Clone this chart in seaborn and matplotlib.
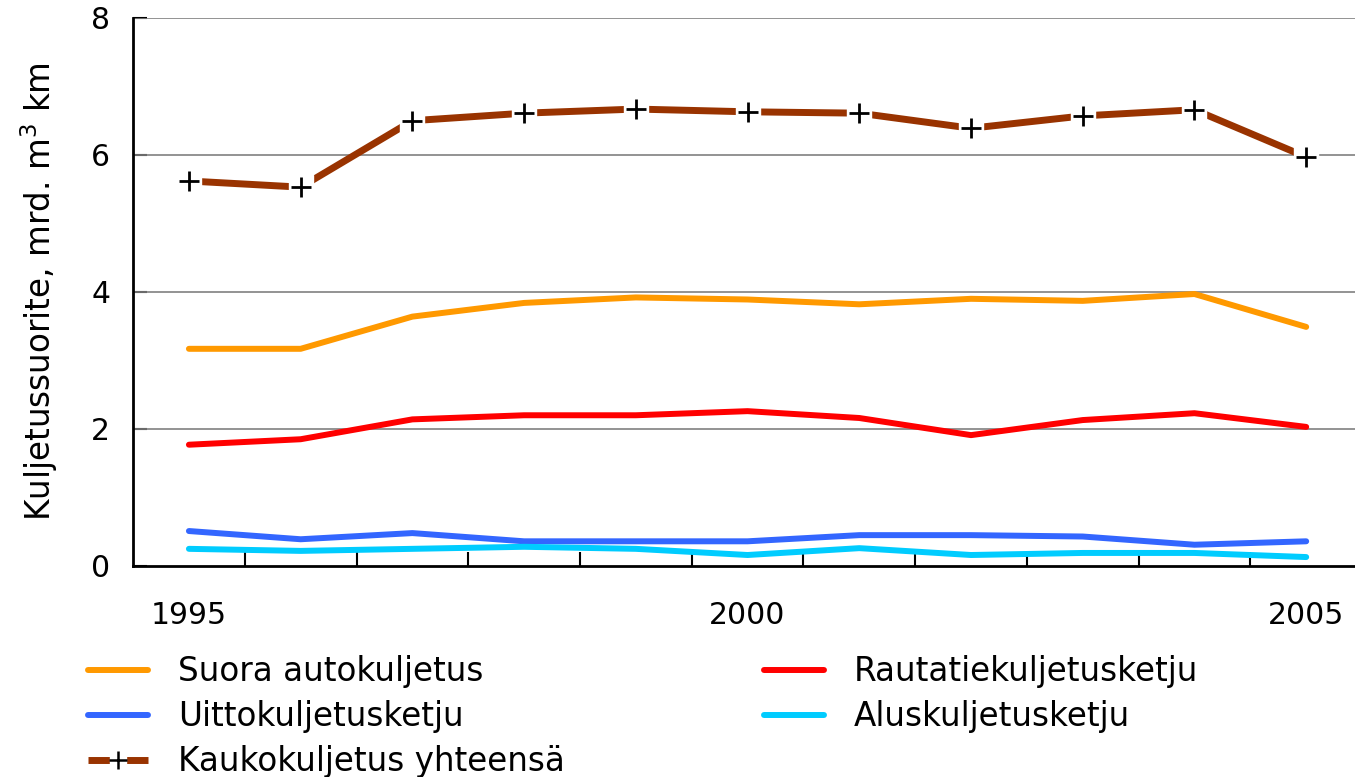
import numpy as np
import pandas as pd
import matplotlib
matplotlib.use('Agg')
import matplotlib.pyplot as plt
import seaborn as sns
from matplotlib.lines import Line2D

# values (mrd. m3 km)
years = list(range(1995, 2006))
suora = [3.17, 3.17, 3.64, 3.84, 3.92, 3.89, 3.82, 3.90, 3.87, 3.97, 3.49]
rautatie = [1.77, 1.85, 2.14, 2.20, 2.20, 2.26, 2.16, 1.91, 2.13, 2.23, 2.03]
uitto = [0.51, 0.39, 0.48, 0.36, 0.36, 0.36, 0.45, 0.45, 0.43, 0.31, 0.36]
alus = [0.25, 0.22, 0.25, 0.28, 0.25, 0.16, 0.26, 0.16, 0.19, 0.19, 0.13]
kauko = [5.62, 5.53, 6.50, 6.61, 6.67, 6.63, 6.61, 6.39, 6.57, 6.66, 5.97]

names = ['Suora autokuljetus', 'Rautatiekuljetusketju', 'Uittokuljetusketju',
         'Aluskuljetusketju']
colors = {'Suora autokuljetus': '#FF9900', 'Rautatiekuljetusketju': '#FF0000',
          'Uittokuljetusketju': '#3366FF', 'Aluskuljetusketju': '#00CCFF'}
kauko_name = 'Kaukokuljetus yhteensä'
kauko_color = '#993300'

# long form table, x as category index so ticks fall between years
df = pd.DataFrame({
    'pos': list(range(len(years))) * 4,
    'arvo': suora + rautatie + uitto + alus,
    'sarja': sum([[n] * len(years) for n in names], []),
})

sns.set_style('white')
plt.rcParams['font.family'] = ['DejaVu Sans']
plt.rcParams['text.color'] = 'black'
plt.rcParams['axes.labelcolor'] = 'black'
plt.rcParams['xtick.color'] = 'black'
plt.rcParams['ytick.color'] = 'black'
fs_tick = 21.5
fs_text = 23.5

fig = plt.figure(figsize=(13.55, 7.77), dpi=100)
ax = fig.add_axes([0.0982, 0.2716, 0.907, 0.7053])

sns.lineplot(data=df, x='pos', y='arvo', hue='sarja', palette=colors,
             hue_order=names, linewidth=4.3, ax=ax, legend=False,
             solid_capstyle='round', solid_joinstyle='round')

pos = np.arange(len(years))
ax.plot(pos, kauko, color=kauko_color, linewidth=5, solid_capstyle='butt', zorder=4)
ax.plot(pos, kauko, linestyle='none', marker='s', markersize=17,
        markerfacecolor='white', markeredgecolor='white', zorder=5)
ax.plot(pos, kauko, linestyle='none', marker='+', markersize=15,
        markeredgewidth=2, color='black', zorder=6)

ax.set_xlim(-0.5, len(years) - 0.5)
ax.set_ylim(0, 8)
ax.set_yticks([0, 2, 4, 6, 8])
ax.set_xticks([0, 5, 10])
ax.set_xticklabels([str(years[0]), str(years[5]), str(years[10])])
ax.set_xticks(np.arange(0.5, len(years) - 1, 1.0), minor=True)
ax.tick_params(axis='x', which='major', length=0, pad=25, labelsize=fs_tick)
ax.tick_params(axis='x', which='minor', length=10, width=1.5, direction='in',
               bottom=True)
ax.tick_params(axis='y', length=10, width=1.5, direction='in', left=True,
               pad=16.5, labelsize=fs_tick)

for y in [2, 4, 6, 8]:
    ax.axhline(y, color='#808080', linewidth=1.2, zorder=1)
for s in ['top', 'right']:
    ax.spines[s].set_visible(False)
for s in ['left', 'bottom']:
    ax.spines[s].set_color('black')
    ax.spines[s].set_linewidth(2)

ax.set_xlabel('')
ax.set_ylabel('Kuljetussuorite, mrd. m$^{3}$ km', fontsize=fs_text, labelpad=22)

# legend, column order: Suora, Uitto, Kauko | Rautatie, Alus
def hline(c):
    return Line2D([], [], color=c, linewidth=4.3, solid_capstyle='round')

k_line = Line2D([], [], color=kauko_color, linewidth=5, solid_capstyle='butt')
k_box = Line2D([], [], linestyle='none', marker='s', markersize=12,
               markerfacecolor='white', markeredgecolor='white')
k_plus = Line2D([], [], linestyle='none', marker='+', markersize=13,
                markeredgewidth=1.8, color='black')
handles = [hline(colors['Suora autokuljetus']), hline(colors['Uittokuljetusketju']),
           (k_line, k_box, k_plus),
           hline(colors['Rautatiekuljetusketju']), hline(colors['Aluskuljetusketju'])]
labels = ['Suora autokuljetus', 'Uittokuljetusketju', kauko_name,
          'Rautatiekuljetusketju', 'Aluskuljetusketju']
fig.legend(handles, labels, ncol=2, loc='upper left',
           bbox_to_anchor=(88 / 1355, 1 - 655 / 777), frameon=False,
           fontsize=fs_text, handlelength=1.84, handletextpad=0.92,
           columnspacing=6.1, labelspacing=0.37, borderpad=0, borderaxespad=0)

fig.savefig('out.png', dpi=100)
